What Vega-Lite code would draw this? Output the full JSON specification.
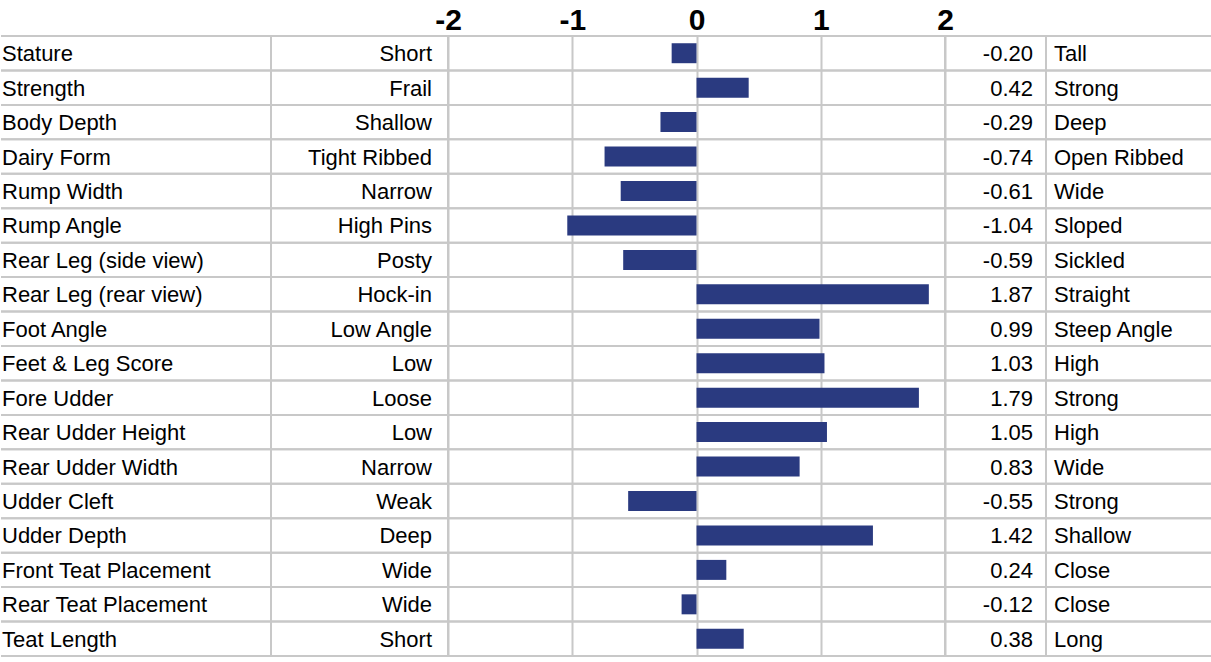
{
  "$schema": "https://vega.github.io/schema/vega-lite/v6.json",
  "padding": {"top": 4, "left": 0, "right": 0, "bottom": 0},
  "autosize": {"type": "pad"},
  "background": "white",
  "spacing": 0,
  "bounds": "flush",
  "config": {
    "locale": {"number": {"decimal": ".", "thousands": ",", "grouping": [3], "currency": ["$", ""], "minus": "-"}},
    "font": "Liberation Sans",
    "text": {"font": "Liberation Sans", "fontSize": 22, "color": "#000000", "baseline": "middle"},
    "rule": {"color": "#c8c8c8", "strokeWidth": 2},
    "view": {"stroke": null}
  },
  "data": {
    "values": [
      {"trait": "Stature", "low": "Short", "high": "Tall", "value": -0.20},
      {"trait": "Strength", "low": "Frail", "high": "Strong", "value": 0.42},
      {"trait": "Body Depth", "low": "Shallow", "high": "Deep", "value": -0.29},
      {"trait": "Dairy Form", "low": "Tight Ribbed", "high": "Open Ribbed", "value": -0.74},
      {"trait": "Rump Width", "low": "Narrow", "high": "Wide", "value": -0.61},
      {"trait": "Rump Angle", "low": "High Pins", "high": "Sloped", "value": -1.04},
      {"trait": "Rear Leg (side view)", "low": "Posty", "high": "Sickled", "value": -0.59},
      {"trait": "Rear Leg (rear view)", "low": "Hock-in", "high": "Straight", "value": 1.87},
      {"trait": "Foot Angle", "low": "Low Angle", "high": "Steep Angle", "value": 0.99},
      {"trait": "Feet & Leg Score", "low": "Low", "high": "High", "value": 1.03},
      {"trait": "Fore Udder", "low": "Loose", "high": "Strong", "value": 1.79},
      {"trait": "Rear Udder Height", "low": "Low", "high": "High", "value": 1.05},
      {"trait": "Rear Udder Width", "low": "Narrow", "high": "Wide", "value": 0.83},
      {"trait": "Udder Cleft", "low": "Weak", "high": "Strong", "value": -0.55},
      {"trait": "Udder Depth", "low": "Deep", "high": "Shallow", "value": 1.42},
      {"trait": "Front Teat Placement", "low": "Wide", "high": "Close", "value": 0.24},
      {"trait": "Rear Teat Placement", "low": "Wide", "high": "Close", "value": -0.12},
      {"trait": "Teat Length", "low": "Short", "high": "Long", "value": 0.38}
    ]
  },
  "hconcat": [
    {
      "width": 270,
      "height": 620,
      "encoding": {
        "y": {"field": "trait", "type": "nominal", "sort": null, "axis": null,
              "scale": {"paddingInner": 0, "paddingOuter": 0}}
      },
      "layer": [
        {"mark": {"type": "rule"}, "encoding": {"y": {"field": "trait", "type": "nominal", "sort": null, "bandPosition": 0}}},
        {"mark": {"type": "rule"}, "encoding": {"y": {"field": "trait", "type": "nominal", "sort": null, "bandPosition": 1}}},
        {"mark": {"type": "text", "align": "left", "x": 0, "dx": 1, "dy": 1}, "encoding": {"text": {"field": "trait"}}}
      ]
    },
    {
      "width": 177,
      "height": 620,
      "view": {"stroke": "#c8c8c8", "strokeWidth": 2},
      "encoding": {
        "y": {"field": "trait", "type": "nominal", "sort": null, "axis": null,
              "scale": {"paddingInner": 0, "paddingOuter": 0}}
      },
      "layer": [
        {"mark": {"type": "rule"}, "encoding": {"y": {"field": "trait", "type": "nominal", "sort": null, "bandPosition": 0}}},
        {"mark": {"type": "rule"}, "encoding": {"y": {"field": "trait", "type": "nominal", "sort": null, "bandPosition": 1}}},
        {"mark": {"type": "text", "align": "right", "x": "width", "dx": -16, "dy": 1}, "encoding": {"text": {"field": "low"}}}
      ]
    },
    {
      "width": 497,
      "height": 620,
      "view": {"stroke": "#c8c8c8", "strokeWidth": 2},
      "encoding": {
        "y": {"field": "trait", "type": "nominal", "sort": null, "axis": null,
              "scale": {"paddingInner": 0, "paddingOuter": 0}}
      },
      "layer": [
        {"mark": {"type": "rule"}, "encoding": {"y": {"field": "trait", "type": "nominal", "sort": null, "bandPosition": 0}}},
        {"mark": {"type": "rule"}, "encoding": {"y": {"field": "trait", "type": "nominal", "sort": null, "bandPosition": 1}}},
        {
          "mark": {"type": "bar", "color": "#2a3a80", "height": {"band": 0.58}},
          "encoding": {
            "x": {"field": "value", "type": "quantitative",
                  "scale": {"domain": [-2, 2], "nice": false, "zero": true},
                  "axis": {"orient": "top", "values": [-2, -1, 0, 1, 2], "format": "d",
                           "title": null, "ticks": false, "domain": false,
                           "grid": true, "gridColor": "#c8c8c8", "gridWidth": 2, "gridOpacity": 1,
                           "labelFont": "Liberation Sans", "labelFontSize": 30, "labelFontWeight": "bold",
                           "labelColor": "#000000", "labelPadding": 1, "labelFlush": false}}
          }
        }
      ]
    },
    {
      "width": 101,
      "height": 620,
      "view": {"stroke": "#c8c8c8", "strokeWidth": 2},
      "encoding": {
        "y": {"field": "trait", "type": "nominal", "sort": null, "axis": null,
              "scale": {"paddingInner": 0, "paddingOuter": 0}}
      },
      "layer": [
        {"mark": {"type": "rule"}, "encoding": {"y": {"field": "trait", "type": "nominal", "sort": null, "bandPosition": 0}}},
        {"mark": {"type": "rule"}, "encoding": {"y": {"field": "trait", "type": "nominal", "sort": null, "bandPosition": 1}}},
        {"mark": {"type": "text", "align": "right", "x": "width", "dx": -13, "dy": 1}, "encoding": {"text": {"field": "value", "type": "quantitative", "format": ".2f"}}}
      ]
    },
    {
      "width": 166,
      "height": 620,
      "encoding": {
        "y": {"field": "trait", "type": "nominal", "sort": null, "axis": null,
              "scale": {"paddingInner": 0, "paddingOuter": 0}}
      },
      "layer": [
        {"mark": {"type": "rule"}, "encoding": {"y": {"field": "trait", "type": "nominal", "sort": null, "bandPosition": 0}}},
        {"mark": {"type": "rule"}, "encoding": {"y": {"field": "trait", "type": "nominal", "sort": null, "bandPosition": 1}}},
        {"mark": {"type": "text", "align": "left", "x": 0, "dx": 8, "dy": 1}, "encoding": {"text": {"field": "high"}}}
      ]
    }
  ]
}
